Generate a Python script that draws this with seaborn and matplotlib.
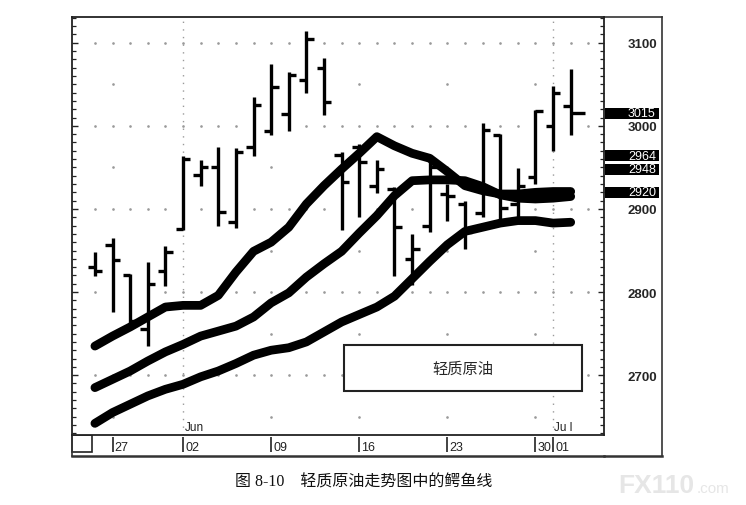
import numpy as np
import matplotlib
matplotlib.use("Agg")
import matplotlib.pyplot as plt
import matplotlib.transforms as mtransforms
from matplotlib.patches import Rectangle
from matplotlib.ticker import MultipleLocator
import seaborn as sns

# ------------------------------------------------------------
# data (light crude, daily bars, May-Jul)
# ------------------------------------------------------------
dates = ['05-23', '05-27', '05-28', '05-29', '05-30',
         '06-02', '06-03', '06-04', '06-05', '06-06',
         '06-09', '06-10', '06-11', '06-12', '06-13',
         '06-16', '06-17', '06-18', '06-19', '06-20',
         '06-23', '06-24', '06-25', '06-26', '06-27',
         '06-30', '07-01', '07-02']

open_ = [2830, 2857, 2820, 2755, 2825, 2876, 2941, 2951, 2884, 2975,
         2994, 3014, 3055, 3070, 2965, 2975, 2928, 2924, 2840, 2880,
         2918, 2906, 2895, 2989, 2906, 2939, 3000, 3024]
high = [2848, 2865, 2822, 2836, 2855, 2964, 2959, 2975, 2973, 3035,
        3075, 3065, 3114, 3082, 2969, 2978, 2959, 2926, 2870, 2962,
        2930, 2910, 3004, 2990, 2949, 3019, 3048, 3069]
low = [2819, 2776, 2761, 2735, 2807, 2875, 2928, 2880, 2877, 2964,
       2989, 2994, 3039, 3013, 2875, 2890, 2919, 2819, 2808, 2872,
       2885, 2852, 2890, 2885, 2885, 2930, 2970, 2989]
close = [2825, 2838, 2765, 2810, 2848, 2960, 2951, 2896, 2969, 3025,
         3047, 3061, 3105, 3029, 2933, 2957, 2948, 2878, 2852, 2951,
         2915, 2872, 2995, 2901, 2928, 3018, 3040, 3015]

# alligator lines
lips = [2735, 2747, 2758, 2770, 2782, 2784, 2784, 2796, 2824, 2849,
        2860, 2878, 2906, 2928, 2948, 2967, 2987, 2976, 2967, 2961,
        2945, 2928, 2922, 2918, 2918, 2920, 2921, 2921]
teeth = [2685, 2695, 2705, 2717, 2728, 2737, 2747, 2753, 2759, 2770,
         2787, 2799, 2818, 2834, 2849, 2871, 2892, 2916, 2934, 2935,
         2935, 2934, 2927, 2917, 2913, 2912, 2913, 2915]
jaw = [2642, 2655, 2665, 2675, 2683, 2689, 2698, 2705, 2714, 2724,
       2730, 2733, 2740, 2752, 2764, 2773, 2782, 2795, 2816, 2837,
       2857, 2873, 2878, 2883, 2886, 2886, 2883, 2884]

date_ticks = ['27', '02', '09', '16', '23', '30', '01']
date_tick_pos = [1, 5, 10, 15, 20, 25, 26]
month_labels = ['Jun', 'Ju l']
month_pos = [5, 26]
week_pos = [1, 10, 15, 20, 25]

price_ticks = [2700, 2800, 2900, 3000, 3100]
half_levels = [2650, 2750, 2850, 2950, 3050]
last_values = [3015, 2964, 2948, 2920]

chart_label = '轻质原油'
caption = '图 8-10\u3000轻质原油走势图中的鳄鱼线'

# ------------------------------------------------------------
# figure
# ------------------------------------------------------------
sns.set_theme(style="white")
plt.rcParams['font.family'] = ['Liberation Sans', 'Noto Sans CJK SC']

W, H = 746, 506
fig = plt.figure(figsize=(W / 100, H / 100), dpi=100)
fig.patch.set_facecolor('white')


def box(x0, y0, x1, y1):
    # pixel box (top-left origin) -> figure fraction rect
    return [x0 / W, 1 - y1 / H, (x1 - x0) / W, (y1 - y0) / H]


ax_price = fig.add_axes(box(604, 18, 662, 457), zorder=0)
ax_date = fig.add_axes(box(72, 436, 604, 457), zorder=1)
ax = fig.add_axes(box(72, 18, 604, 436), zorder=2)

for a in (ax_price, ax_date):
    a.set_xticks([])
    a.set_yticks([])
    a.set_facecolor('none')

for s in ('top', 'right', 'bottom'):
    ax_price.spines[s].set_linewidth(1.2)
    ax_price.spines[s].set_color('#333333')
ax_price.spines['left'].set_visible(False)
ax_price.spines['bottom'].set_linewidth(1.8)

ax_date.spines['right'].set_visible(False)
ax_date.spines['top'].set_visible(False)
for s in ('left', 'bottom'):
    ax_date.spines[s].set_linewidth(1.2)
    ax_date.spines[s].set_color('#333333')
ax_date.spines['bottom'].set_linewidth(1.8)

idx = np.arange(len(dates))
ax.set_xlim(-1.30, 28.89)
ax.set_ylim(2628, 3131)
ax_date.set_xlim(ax.get_xlim())
ax_date.set_ylim(0, 1)

# dotted grid
grid_x = np.arange(0, len(dates) + 1)
for lvl in price_ticks:
    ax.plot(grid_x, [lvl] * len(grid_x), ls='none', marker='o', ms=0.9,
            color='#9a9a9a', zorder=1)
for lvl in half_levels:
    ax.plot(week_pos, [lvl] * len(week_pos), ls='none', marker='o', ms=0.9,
            color='#9a9a9a', zorder=1)
for p in month_pos:
    ax.axvline(p, color='#9a9a9a', lw=1.0, ls=(0, (1, 4.5)), zorder=1)

# alligator lines
for series in (jaw, teeth, lips):
    sns.lineplot(x=idx, y=series, ax=ax, color='black', linewidth=6.3,
                 solid_capstyle='round', solid_joinstyle='round', zorder=3)

# OHLC bars
bar_lw = 2.4
tick_w = 0.42
ax.vlines(idx, low, high, color='black', lw=bar_lw, zorder=4)
ax.hlines(open_, idx - tick_w, idx, color='black', lw=bar_lw, zorder=4)
right_w = np.full(len(idx), tick_w)
right_w[-1] = 0.8
ax.hlines(close, idx, idx + right_w, color='black', lw=bar_lw, zorder=4)

# axes styling
for s in ax.spines.values():
    s.set_linewidth(1.3)
    s.set_color('#222222')
ax.set_xticks([])
ax.set_yticks(price_ticks)
ax.yaxis.set_minor_locator(MultipleLocator(10))
ax.tick_params(axis='y', which='both', direction='in', left=True, right=True,
               labelleft=False, labelright=True, pad=17, color='#222222')
ax.tick_params(axis='y', which='major', length=4.5, width=1.0,
               labelsize=9.5)
ax.tick_params(axis='y', which='minor', length=3.2, width=0.9)
for lab in ax.get_yticklabels():
    lab.set_fontweight('bold')
ax.set_xlabel('')
ax.set_ylabel('')

# last-value boxes on the price scale
trans = mtransforms.blended_transform_factory(ax.transAxes, ax.transData)
for v in last_values:
    ax.add_patch(Rectangle((1.002, v - 6.6), 0.1015, 13.2, transform=trans,
                           facecolor='black', edgecolor='none',
                           clip_on=False, zorder=6))
    ax.text(1.0451, v, str(v), transform=trans, color='white', fontsize=9,
            ha='left', va='center', clip_on=False, zorder=7)

# month labels inside the plot
trans_m = mtransforms.blended_transform_factory(ax.transData, ax.transAxes)
for p, m in zip(month_pos, month_labels):
    ax.text(p + 0.08, 0.004, m, transform=trans_m, fontsize=8.5,
            ha='left', va='bottom', color='#222222')

# date strip
ax_date.vlines(date_tick_pos, 0.2, 0.9, color='#222222', lw=1.2)
for p, t in zip(date_tick_pos, date_ticks):
    ax_date.text(p + 0.12, 0.45, t, fontsize=9, ha='left', va='center',
                 color='#222222')
ax_date.add_patch(Rectangle((0, 0.17), 0.0376, 0.83, transform=ax_date.transAxes,
                            facecolor='white', edgecolor='#222222', lw=1.2,
                            clip_on=False))

# label box
ax.add_patch(Rectangle((0.511, 0.105), 0.448, 0.110, transform=ax.transAxes,
                       facecolor='white', edgecolor='#222222', lw=1.5, zorder=5))
ax.text(0.735, 0.160, chart_label, transform=ax.transAxes, fontsize=11,
        ha='center', va='center', family=['Noto Sans CJK SC'], zorder=6)

# caption and watermark
fig.text(0.487, 0.047, caption, fontsize=11.5, ha='center', va='center',
         family=['Liberation Serif', 'Noto Sans CJK SC'], color='#111111')
fig.text(618 / W, 1 - 493 / H, 'FX110', fontsize=19, fontweight='bold',
         color='#e6e6e6', ha='left', va='baseline')
fig.text(697 / W, 1 - 493 / H, '.com', fontsize=11, color='#e6e6e6',
         ha='left', va='baseline')

fig.savefig('out.png', dpi=100, facecolor='white')
